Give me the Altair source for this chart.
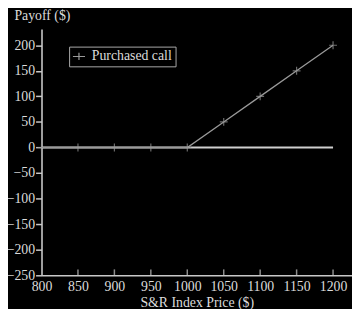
import altair as alt
import pandas as pd

# ---- data ----
prices = [800, 850, 900, 950, 1000, 1050, 1100, 1150, 1200]
payoff = [0, 0, 0, 0, 0, 50, 100, 150, 200]
series_name = "Purchased call"
x_ticks = [800, 850, 900, 950, 1000, 1050, 1100, 1150, 1200]
y_ticks = [-250, -200, -150, -100, -50, 0, 50, 100, 150, 200]
zero_line_x = [800, 1200]
zero_line_y = [0, 0]

df = pd.DataFrame({"price": prices, "payoff": payoff, "series": [series_name] * len(prices)})
zero_df = pd.DataFrame({"price": zero_line_x, "payoff": zero_line_y})
tick_df = pd.DataFrame({"price": x_ticks[1:], "payoff": [y_ticks[0]] * (len(x_ticks) - 1)})

FONT = "Liberation Serif"
AXIS_COL = "#c8c8c8"
TEXT_COL = "#dcdcdc"
LINE_COL = "#9a9a9a"
PLUS = "M-1,0L1,0M0,-1L0,1"

xscale = alt.Scale(domain=[800, 1226], nice=False, zero=False)
yscale = alt.Scale(domain=[-250, 232], nice=False, zero=False)

xaxis = alt.Axis(values=x_ticks, ticks=False, labelPadding=4, title="S&R Index Price ($)",
                 titlePadding=3,
                 grid=False, labelFlush=False, format="d", labelOverlap=False)
yaxis = alt.Axis(values=y_ticks, tickSize=6, labelPadding=1, title="Payoff ($)", titleAngle=0,
                 titleAlign="left", titleBaseline="alphabetic", titleX=-28, titleY=-9.5,
                 grid=False, labelFlush=False, format="d", labelOverlap=False)

X = alt.X("price:Q", scale=xscale, axis=xaxis)
Y = alt.Y("payoff:Q", scale=yscale, axis=yaxis)

zero = alt.Chart(zero_df).mark_line(color="#cfcfcf", strokeWidth=2.2).encode(x=X, y=Y)

xt = alt.Chart(tick_df).mark_tick(orient="vertical", size=6, thickness=1.5, color=AXIS_COL,
                                  yOffset=-3).encode(x=X, y=Y)

legend = alt.Legend(title=None, orient="none", legendX=28, legendY=18, padding=3,
                    strokeColor="#aaaaaa", fillColor="black", symbolType="M-1,0L1,0M0,-0.6L0,0.6",
                    symbolSize=150, symbolStrokeWidth=1.2, labelFontSize=14, labelFont=FONT,
                    labelColor=TEXT_COL, labelOffset=6, symbolStrokeColor=LINE_COL)

line = alt.Chart(df).mark_line(strokeWidth=1.3).encode(
    x=X, y=Y,
    color=alt.Color("series:N", scale=alt.Scale(range=[LINE_COL]), legend=legend),
)

pts = alt.Chart(df).mark_point(shape=PLUS, size=64, filled=False, strokeWidth=1.2,
                               color=LINE_COL).encode(x=X, y=Y)

chart = alt.layer(zero, xt, line, pts).properties(
    width=315, height=250,
    autosize=alt.AutoSizeParams(type="none"),
    padding={"left": 34, "top": 19, "right": 0, "bottom": 32},
    background="black",
).configure_view(stroke=None).configure_axis(
    domainColor=AXIS_COL, domainWidth=1.6, tickColor=AXIS_COL, tickWidth=1.5,
    labelFont=FONT, labelFontSize=14, labelColor=TEXT_COL, labelOverlap=False,
    titleFont=FONT, titleFontSize=14, titleColor=TEXT_COL, titleFontWeight="normal",
)

chart.save("out.html", embed_options={"renderer": "svg", "actions": False})
